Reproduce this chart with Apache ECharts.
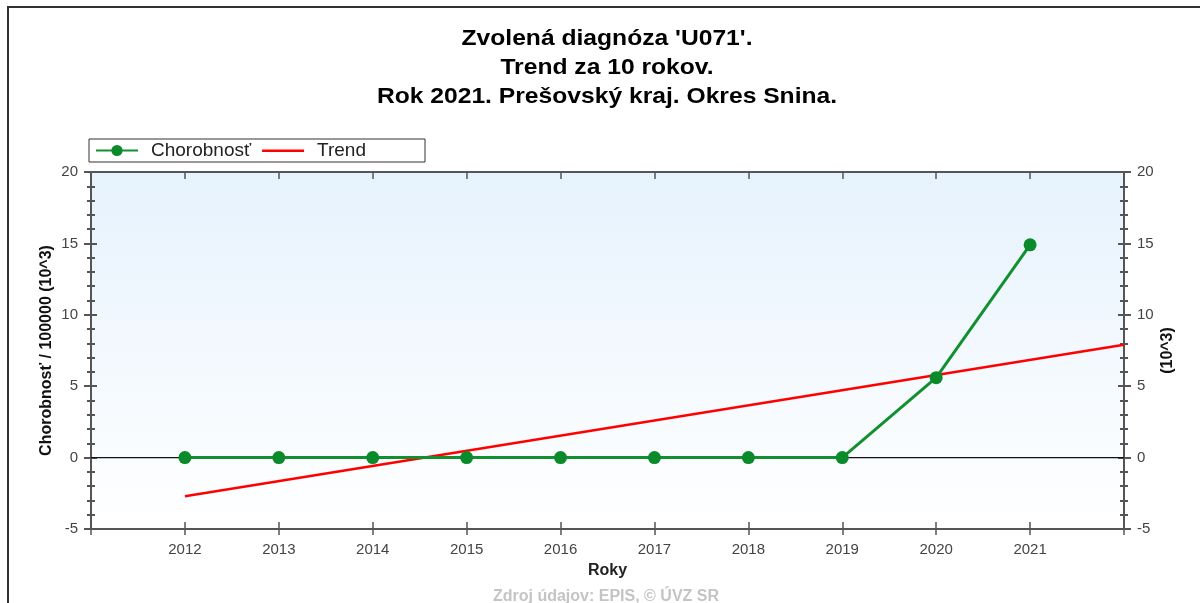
<!DOCTYPE html>
<html>
<head>
<meta charset="utf-8">
<script src="https://cdn.jsdelivr.net/npm/echarts@6/dist/echarts.min.js"></script>
<style>
  html, body { margin: 0; padding: 0; background: #fff; }
  #chart { width: 1200px; height: 603px; }
</style>
</head>
<body>
<div id="chart"></div>
<script>
// Yearly incidence per 100 000 (in 10^3) and the fitted linear trend
const years = [2012, 2013, 2014, 2015, 2016, 2017, 2018, 2019, 2020, 2021];
const chorobnost = [0, 0, 0, 0, 0, 0, 0, 0, 5.6, 14.9];
const trendYears = [2012, 2022];
const trendValues = [-2.7, 7.9];
const yTicks = [-5, 0, 5, 10, 15, 20];

const titleLines = [
  "Zvolená diagnóza 'U071'.",
  'Trend za 10 rokov.',
  'Rok 2021. Prešovský kraj. Okres Snina.'
];

const FONT = '"Liberation Sans", Arial, sans-serif';
const AXIS_COLOR = '#555';

const chart = echarts.init(document.getElementById('chart'), null, { renderer: 'canvas' });

const yMin = yTicks[0], yMax = yTicks[yTicks.length - 1];
const xMin = years[0] - 1, xMax = years[years.length - 1] + 1;

function yAxisBase(pos, inside, withLabels) {
  return {
    type: 'value', position: pos, min: yMin, max: yMax, interval: 5,
    axisLine: { show: true, onZero: false, lineStyle: { color: AXIS_COLOR, width: 2 } },
    axisTick: { show: true, inside: inside, length: inside ? 6 : 7, lineStyle: { color: AXIS_COLOR, width: 2 } },
    minorTick: { show: true, splitNumber: 5, length: 4, lineStyle: { color: AXIS_COLOR, width: 2 } },
    splitLine: { show: false },
    axisLabel: withLabels ? { show: true, margin: 13, fontFamily: FONT, fontSize: 15, color: '#444' } : { show: false }
  };
}

function xAxisBase(pos, inside, withLabels) {
  return {
    type: 'value', position: pos, min: xMin, max: xMax, interval: 1,
    axisLine: { show: true, onZero: false, lineStyle: { color: AXIS_COLOR, width: 2 } },
    axisTick: { show: true, inside: inside, length: inside ? 7 : 6, lineStyle: { color: AXIS_COLOR, width: 1.5 } },
    splitLine: { show: false },
    axisLabel: withLabels ? {
      show: true, margin: 13, fontFamily: FONT, fontSize: 15, color: '#444',
      formatter: v => (years.indexOf(v) >= 0 ? String(v) : '')
    } : { show: false }
  };
}

const xBottom = xAxisBase('bottom', false, true);
xBottom.name = 'Roky';
xBottom.nameLocation = 'middle';
xBottom.nameGap = 34;
xBottom.nameTextStyle = { fontFamily: FONT, fontSize: 16, fontWeight: 'bold', color: '#222' };

const yLeft = yAxisBase('left', false, true);
yLeft.name = 'Chorobnosť / 100000 (10^3)';
yLeft.nameLocation = 'middle';
yLeft.nameGap = 36;
yLeft.nameMoveOverlap = false;
yLeft.nameTextStyle = { fontFamily: FONT, fontSize: 16, fontWeight: 'bold', color: '#111' };

const yRight = yAxisBase('right', false, true);
yRight.name = '(10^3)';
yRight.nameLocation = 'middle';
yRight.nameGap = 36;
yRight.nameMoveOverlap = false;
yRight.nameTextStyle = { fontFamily: FONT, fontSize: 16, fontWeight: 'bold', color: '#111' };

// plain stroke icon for the trend entry; zero-length segments fix the icon box
const lineIcon = 'path://M0,0L0,0M0,5L42,5L42,7.5L0,7.5ZM42,12L42,12';

const option = {
  animation: false,
  backgroundColor: '#fff',
  legend: {
    left: 89, top: 139,
    orient: 'horizontal',
    data: [{ name: 'Chorobnosť' }, { name: 'Trend', icon: lineIcon }],
    itemWidth: 42, itemHeight: 14, itemGap: 11,
    padding: [2, 59, 2, 6],
    borderColor: '#333', borderWidth: 1,
    textStyle: { fontFamily: FONT, fontSize: 19, color: '#222', padding: [0, 0, 0, 8] }
  },
  grid: {
    left: 91, right: 76, top: 172, bottom: 74,
    show: true, borderWidth: 0,
    backgroundColor: new echarts.graphic.LinearGradient(0, 0, 0, 1, [
      { offset: 0, color: '#e6f2fd' },
      { offset: 1, color: '#ffffff' }
    ])
  },
  xAxis: [
    xBottom,
    xAxisBase('bottom', true, false),
    xAxisBase('top', true, false)
  ],
  yAxis: [
    yLeft,
    yAxisBase('left', true, false),
    yRight,
    yAxisBase('right', true, false)
  ],
  graphic: [
    {
      // three-line chart heading, slightly widened
      type: 'text', x: 607, y: 24, scaleX: 1.12, silent: true,
      style: {
        text: titleLines.join('\n'), textAlign: 'center', textVerticalAlign: 'top',
        fontFamily: FONT, fontSize: 22, fontWeight: 'bold', lineHeight: 29, fill: '#000'
      }
    },
    {
      type: 'polyline', silent: true, z: 100,
      shape: { points: [[8, 603], [8, 7], [1200, 7]] },
      style: { stroke: '#333', lineWidth: 2, fill: null }
    },
    {
      type: 'text', x: 606, y: 589, silent: true,
      style: {
        text: 'Zdroj údajov: EPIS, © ÚVZ SR', textAlign: 'center', textVerticalAlign: 'top',
        fontFamily: FONT, fontSize: 16, fontWeight: 'bold', fill: '#c4c4c4'
      }
    }
  ],
  series: [
    {
      name: 'zero', type: 'line', silent: true, z: 1,
      xAxisIndex: 0, yAxisIndex: 0,
      data: [[xMin, 0], [xMax, 0]],
      symbol: 'none',
      lineStyle: { color: '#111', width: 1.2 }
    },
    {
      name: 'Trend', type: 'line', z: 2,
      xAxisIndex: 0, yAxisIndex: 0,
      data: trendYears.map((y, i) => [y, trendValues[i]]),
      symbol: 'none',
      itemStyle: { color: '#ff0000' },
      lineStyle: { color: '#ff0000', width: 2.5 }
    },
    {
      name: 'Chorobnosť', type: 'line', z: 3,
      xAxisIndex: 0, yAxisIndex: 0,
      data: years.map((y, i) => [y, chorobnost[i]]),
      symbol: 'circle', symbolSize: 13,
      itemStyle: { color: '#0a8a2a' },
      lineStyle: { color: '#12902f', width: 3 }
    }
  ]
};

chart.setOption(option);
</script>
</body>
</html>
